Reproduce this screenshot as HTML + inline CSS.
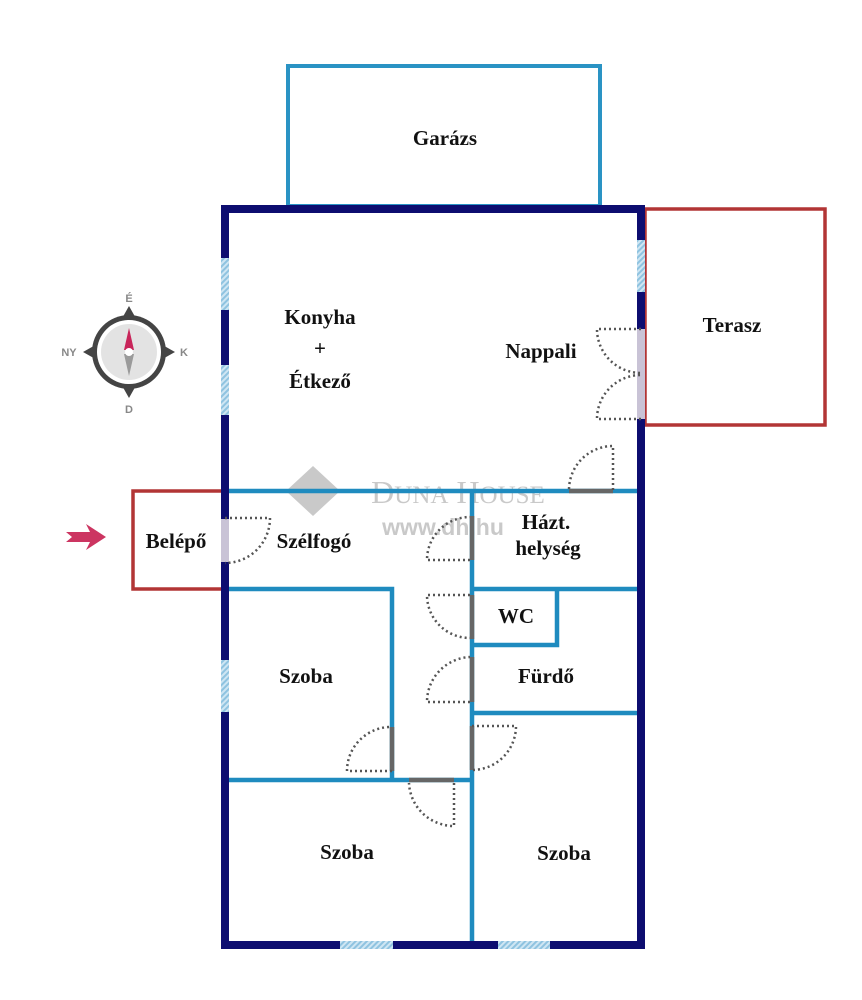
<!DOCTYPE html>
<html><head><meta charset="utf-8"><style>
html,body{margin:0;padding:0;background:#fff;}
svg{display:block}
text{font-family:"Liberation Serif",serif;font-weight:bold;fill:#111;font-size:21px;text-anchor:middle}
</style></head><body>
<svg width="862" height="1000" viewBox="0 0 862 1000" xmlns="http://www.w3.org/2000/svg">
<defs>
<pattern id="h" width="4" height="4" patternUnits="userSpaceOnUse" patternTransform="rotate(45)">
<rect width="4" height="4" fill="#cfe6f3"/><rect width="2" height="4" fill="#8fc3e0"/></pattern>
</defs>
<rect x="288" y="66" width="312" height="140" fill="none" stroke="#2a93c4" stroke-width="4"/>
<rect x="645" y="209" width="180" height="216" fill="none" stroke="#b23535" stroke-width="3.5"/>
<rect x="133" y="491" width="90" height="98" fill="none" stroke="#b23535" stroke-width="3.5"/>
<g opacity="0.45">
<path d="M313,466 L340,491 L313,516 L286,491 Z" fill="#888"/>
<text x="458" y="503" style="font-size:32px;font-weight:normal;fill:#888">D<tspan style="font-size:25px">UNA</tspan> H<tspan style="font-size:25px">OUSE</tspan></text>
<text x="443" y="535" style="font-size:23px;fill:#888;font-family:'Liberation Sans',sans-serif">www.dh.hu</text>
</g>
<g stroke="#1f8bbf" stroke-width="4.5" fill="none">
<path d="M225,491 H641"/>
<path d="M225,589 H392 V780"/>
<path d="M472,491 V945"/>
<path d="M472,589 H641"/>
<path d="M557,589 V645 H472"/>
<path d="M472,713 H641"/>
<path d="M225,780 H472"/>
</g>
<g stroke="#666" stroke-width="4.5">
<path d="M569,491 H613"/>
<path d="M472,516 V560"/>
<path d="M472,595 V639"/>
<path d="M472,657 V702"/>
<path d="M472,726 V770"/>
<path d="M392,727 V771"/>
<path d="M409,780 H454"/>
</g>
<rect x="225" y="209" width="416" height="736" fill="none" stroke="#0d0d70" stroke-width="8"/>
<g fill="url(#h)">
<rect x="221" y="258" width="8" height="52"/>
<rect x="221" y="365" width="8" height="50"/>
<rect x="221" y="660" width="8" height="52"/>
<rect x="637" y="240" width="8" height="52"/>
<rect x="340" y="941" width="53" height="8"/>
<rect x="498" y="941" width="52" height="8"/>
</g>
<rect x="221" y="519" width="8" height="43" fill="#c9c3d6"/>
<rect x="637" y="329" width="8" height="90" fill="#c9c3d6"/>
<g stroke="#555" stroke-width="2.5" stroke-dasharray="2,3" fill="none">
<path d="M641,329 H597 A44,44 0 0 0 641,373"/>
<path d="M641,419 H597 A44,44 0 0 1 641,375"/>
<path d="M613,490 V446 A44,44 0 0 0 569,490"/>
<path d="M225,518 H270 A45,45 0 0 1 225,563"/>
<path d="M470,560 H427 A43,43 0 0 1 470,517"/>
<path d="M470,595 H427 A43,43 0 0 0 470,638"/>
<path d="M470,702 H427 A45,45 0 0 1 470,657"/>
<path d="M392,771 H347 A44,44 0 0 1 392,727"/>
<path d="M472,726 H516 A44,44 0 0 1 472,770"/>
<path d="M454,783 V826 A45,45 0 0 1 409,783"/>
</g>
<text x="445" y="145">Garázs</text>
<text x="320" y="324">Konyha</text>
<text x="320" y="355">+</text>
<text x="320" y="388">Étkező</text>
<text x="541" y="358">Nappali</text>
<text x="732" y="332">Terasz</text>
<text x="176" y="548">Belépő</text>
<text x="314" y="548">Szélfogó</text>
<text x="546" y="529">Házt.</text>
<text x="548" y="555">helység</text>
<text x="516" y="623">WC</text>
<text x="546" y="683">Fürdő</text>
<text x="306" y="683">Szoba</text>
<text x="347" y="859">Szoba</text>
<text x="564" y="860">Szoba</text>
<path d="M66,532 H90 L86,524 L106,537 L86,550 L90,542 H66 L72,537 Z" fill="#cc3561"/>
<g>
<path d="M129,306 L138,322 L120,322 Z M129,398 L138,382 L120,382 Z M83,352 L99,343 L99,361 Z M175,352 L159,343 L159,361 Z" fill="#444"/>
<circle cx="129" cy="352" r="37" fill="#444"/>
<circle cx="129" cy="352" r="32" fill="#fff"/>
<circle cx="129" cy="352" r="28" fill="#e3e3e3"/>
<path d="M129,328 L134,350 H124 Z" fill="#c8255a"/>
<path d="M129,376 L134,354 H124 Z" fill="#9a9a9a"/>
<circle cx="129" cy="352" r="4" fill="#fff"/>
<text x="129" y="302" style="font-size:11px;fill:#888;font-family:'Liberation Sans',sans-serif">É</text>
<text x="129" y="413" style="font-size:11px;fill:#888;font-family:'Liberation Sans',sans-serif">D</text>
<text x="69" y="356" style="font-size:11px;fill:#888;font-family:'Liberation Sans',sans-serif">NY</text>
<text x="184" y="356" style="font-size:11px;fill:#888;font-family:'Liberation Sans',sans-serif">K</text>
</g>
</svg>
</body></html>
